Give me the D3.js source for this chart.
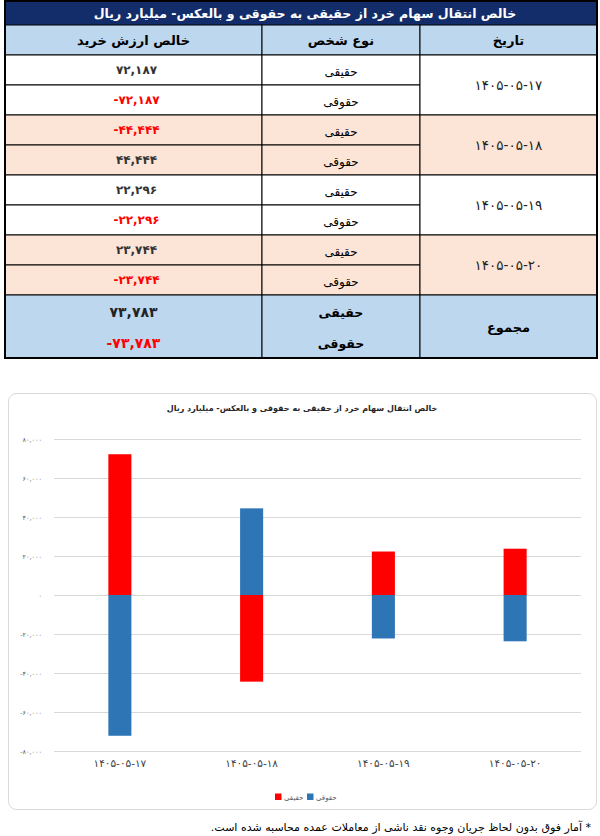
<!DOCTYPE html>
<html>
<head>
<meta charset="utf-8">
<script src="https://cdn.jsdelivr.net/npm/d3@7"></script>
<style>
  body { margin: 0; background: #fff; }
  svg text { font-family: "DejaVu Sans", sans-serif; }
</style>
</head>
<body>
<div id="page"></div>
<script>
// data
var tableTitle = 'خالص انتقال سهام خرد از حقیقی به حقوقی و بالعکس- میلیارد ریال';
var chartTitle = 'خالص انتقال سهام خرد از حقیقی به حقوقی و بالعکس- میلیارد ریال';
var headers = ['خالص ارزش خرید', 'نوع شخص', 'تاریخ'];
var dates = ['۱۴۰۵-۰۵-۱۷', '۱۴۰۵-۰۵-۱۸', '۱۴۰۵-۰۵-۱۹', '۱۴۰۵-۰۵-۲۰'];
var seriesNames = ['حقیقی', 'حقوقی'];
var haghighi = [72187, -44444, 22296, 23744];
var hoghoghi = [-72187, 44444, -22296, -23744];
var totalLabel = 'مجموع';
var totals = [73783, -73783];
var yTicks = [-80000, -60000, -40000, -20000, 0, 20000, 40000, 60000, 80000];
var footnote = '* آمار فوق بدون لحاظ جریان وجوه نقد ناشی از معاملات عمده محاسبه شده است.';

var colors = { 'حقیقی': '#ff0000', 'حقوقی': '#2e75b6' };

var faDigits = '۰۱۲۳۴۵۶۷۸۹';
function toFa(s) {
  return String(s).replace(/[0-9]/g, function(c) { return faDigits[+c]; });
}
var fmt = d3.format(',');
function faNum(v) { return toFa(fmt(v)).replace('−', '-'); }

var svg = d3.select('#page').append('svg')
  .attr('width', 600)
  .attr('height', 836);

// ---------- table ----------
var x0 = 5, x1 = 597, colA = 262, colB = 420;
var titleH = 25, headY = 25, headH = 30, rowY = 55, rowH = 30, totalH = 63;
var table = svg.append('g');

table.append('rect')
  .attr('x', x0).attr('y', 0).attr('width', x1 - x0).attr('height', titleH)
  .attr('fill', '#132d6b');
table.append('text')
  .attr('x', (x0 + x1) / 2 + 4).attr('y', 18)
  .attr('text-anchor', 'middle').attr('direction', 'rtl')
  .attr('fill', '#fff').attr('font-weight', 'bold').attr('font-size', 12.5)
  .text(tableTitle);

var cols = [[x0, colA], [colA, colB], [colB, x1]];
table.selectAll('rect.head').data(headers).enter().append('rect')
  .attr('class', 'head')
  .attr('x', (d, i) => cols[i][0]).attr('y', headY)
  .attr('width', (d, i) => cols[i][1] - cols[i][0]).attr('height', headH)
  .attr('fill', '#bdd7ee').attr('stroke', '#000');
table.selectAll('text.head').data(headers).enter().append('text')
  .attr('class', 'head')
  .attr('x', (d, i) => (cols[i][0] + cols[i][1]) / 2).attr('y', headY + 20)
  .attr('text-anchor', 'middle').attr('direction', 'rtl')
  .attr('font-weight', 'bold').attr('font-size', 13).attr('fill', '#000')
  .text(d => d);

var rows = [];
dates.forEach(function(d, i) {
  rows.push({ date: i, type: seriesNames[0], value: haghighi[i] });
  rows.push({ date: i, type: seriesNames[1], value: hoghoghi[i] });
});
var rowFill = i => (i % 2 === 0 ? '#ffffff' : '#fce4d6');

var rowG = table.selectAll('g.row').data(rows).enter().append('g')
  .attr('class', 'row')
  .attr('transform', (d, i) => `translate(0,${rowY + i * rowH})`);
rowG.append('rect')
  .attr('x', x0).attr('width', colA - x0).attr('height', rowH)
  .attr('fill', d => rowFill(d.date)).attr('stroke', '#000');
rowG.append('rect')
  .attr('x', colA).attr('width', colB - colA).attr('height', rowH)
  .attr('fill', d => rowFill(d.date)).attr('stroke', '#000');
rowG.append('text')
  .attr('x', (x0 + colA) / 2 + 3).attr('y', 19)
  .attr('text-anchor', 'middle')
  .attr('font-size', 12).attr('font-weight', 'bold')
  .attr('fill', d => (d.value < 0 ? '#ff0000' : '#333'))
  .text(d => faNum(d.value));
rowG.append('text')
  .attr('x', (colA + colB) / 2).attr('y', 21)
  .attr('text-anchor', 'middle').attr('direction', 'rtl')
  .attr('font-size', 12).attr('fill', '#000')
  .text(d => d.type);

table.selectAll('rect.date').data(dates).enter().append('rect')
  .attr('class', 'date')
  .attr('x', colB).attr('y', (d, i) => rowY + i * 2 * rowH)
  .attr('width', x1 - colB).attr('height', 2 * rowH)
  .attr('fill', (d, i) => rowFill(i)).attr('stroke', '#000');
table.selectAll('text.date').data(dates).enter().append('text')
  .attr('class', 'date')
  .attr('x', (colB + x1) / 2).attr('y', (d, i) => rowY + i * 2 * rowH + rowH + 5)
  .attr('text-anchor', 'middle')
  .attr('font-size', 13.5).attr('fill', '#222')
  .text(d => d);

// total row
var totY = rowY + rows.length * rowH;
cols.forEach(function(c) {
  table.append('rect')
    .attr('x', c[0]).attr('y', totY).attr('width', c[1] - c[0]).attr('height', totalH)
    .attr('fill', '#bdd7ee').attr('stroke', '#000');
});
table.selectAll('text.tot').data(totals).enter().append('text')
  .attr('class', 'tot')
  .attr('x', (x0 + colA) / 2).attr('y', (d, i) => totY + 22 + i * 31)
  .attr('text-anchor', 'middle')
  .attr('font-size', 14).attr('font-weight', 'bold')
  .attr('fill', d => (d < 0 ? '#ff0000' : '#222'))
  .text(d => faNum(d));
table.selectAll('text.totType').data(seriesNames).enter().append('text')
  .attr('class', 'totType')
  .attr('x', (colA + colB) / 2).attr('y', (d, i) => totY + 22 + i * 31)
  .attr('text-anchor', 'middle').attr('direction', 'rtl')
  .attr('font-size', 12.5).attr('font-weight', 'bold').attr('fill', '#000')
  .text(d => d);
table.append('text')
  .attr('x', (colB + x1) / 2).attr('y', totY + totalH / 2 + 5)
  .attr('text-anchor', 'middle').attr('direction', 'rtl')
  .attr('font-size', 13).attr('font-weight', 'bold').attr('fill', '#000')
  .text(totalLabel);

// outer border
table.append('rect')
  .attr('x', x0).attr('y', 1).attr('width', x1 - x0).attr('height', totY + totalH - 1)
  .attr('fill', 'none').attr('stroke', '#000').attr('stroke-width', 2);

// ---------- chart ----------
var card = { x: 8.5, y: 393.5, w: 588, h: 416 };
svg.append('rect')
  .attr('x', card.x).attr('y', card.y).attr('width', card.w).attr('height', card.h)
  .attr('rx', 8).attr('fill', '#fff').attr('stroke', '#d9d9d9');

svg.append('text')
  .attr('x', 302).attr('y', 411)
  .attr('text-anchor', 'middle').attr('direction', 'rtl')
  .attr('font-size', 8).attr('font-weight', 'bold').attr('fill', '#262626')
  .text(chartTitle);

var plot = { left: 54, right: 581, top: 439, bottom: 751 };
var x = d3.scaleBand()
  .domain(dates)
  .range([plot.left, plot.right])
  .paddingInner(0.825)
  .paddingOuter(0.4125);
var y = d3.scaleLinear()
  .domain([-80000, 80000])
  .range([plot.bottom, plot.top]);

var yAxis = svg.append('g')
  .attr('transform', `translate(${plot.left},0)`)
  .call(d3.axisLeft(y)
    .tickValues(yTicks)
    .tickSize(-(plot.right - plot.left))
    .tickPadding(12)
    .tickFormat(faNum));
yAxis.select('.domain').remove();
yAxis.selectAll('.tick line').attr('stroke', '#d9d9d9');
yAxis.selectAll('.tick text')
  .attr('font-size', 6.5).attr('fill', '#595959')
  .style('font-family', '"DejaVu Sans", sans-serif');

var table2 = dates.map(function(d, i) {
  return { date: d, 'حقیقی': haghighi[i], 'حقوقی': hoghoghi[i] };
});
var stack = d3.stack()
  .keys(seriesNames)
  .offset(d3.stackOffsetDiverging);
var layers = stack(table2);

svg.append('g').selectAll('g').data(layers).enter().append('g')
  .attr('fill', d => colors[d.key])
  .selectAll('rect').data(d => d).enter().append('rect')
  .attr('x', d => x(d.data.date))
  .attr('width', x.bandwidth())
  .attr('y', d => y(d[1]))
  .attr('height', d => y(d[0]) - y(d[1]));

var xAxis = svg.append('g')
  .attr('transform', `translate(0,${plot.bottom})`)
  .call(d3.axisBottom(x).tickSize(0).tickPadding(9));
xAxis.select('.domain').remove();
xAxis.selectAll('.tick text')
  .attr('font-size', 10.5).attr('fill', '#404040')
  .style('font-family', '"DejaVu Sans", sans-serif');

// legend
var legendX = [275, 307];
var legend = svg.append('g').selectAll('g').data(seriesNames).enter().append('g')
  .attr('transform', (d, i) => `translate(${legendX[i]},797)`);
legend.append('rect')
  .attr('x', 0).attr('y', -3.5).attr('width', 6.5).attr('height', 6.5)
  .attr('fill', d => colors[d]);
legend.append('text')
  .attr('x', 9).attr('y', 2.5)
  .attr('font-size', 7).attr('fill', '#595959')
  .text(d => d);

// footnote
svg.append('text')
  .attr('x', 591).attr('y', 831)
  .attr('direction', 'rtl').attr('text-anchor', 'start')
  .attr('font-size', 11).attr('fill', '#000')
  .text(footnote);
</script>
</body>
</html>
